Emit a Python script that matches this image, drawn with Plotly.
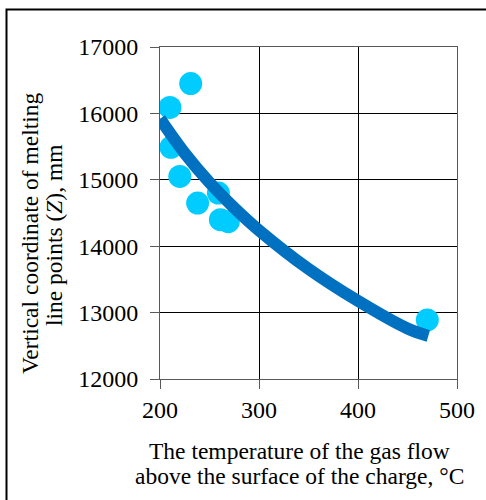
import plotly.graph_objects as go

# Measured data points (temperature, °C ; vertical coordinate, mm)
temp = [231, 210, 211, 220, 238, 259, 261, 269, 470]
zcoord = [16450, 16090, 15490, 15050, 14650, 14800, 14400, 14370, 12890]

# Trend line
trend_x = [200, 225, 250, 275, 300, 350, 400, 450, 471]
trend_y = [15920, 15400, 14959, 14578, 14239, 13658, 13175, 12760, 12648]

x_ticks = [200, 300, 400, 500]
y_ticks = [12000, 13000, 14000, 15000, 16000, 17000]

W, H = 486, 500
L, R, T, B = 160, 457, 47, 379
PW, PH = R - L, B - T

def px(xp):
    return (xp - L) / PW

def py(yp):
    return (B - yp) / PH

FONT = "Liberation Serif"

fig = go.Figure()
fig.add_trace(go.Scatter(
    x=temp, y=zcoord, mode="markers",
    marker=dict(size=23, color="#00CCFF", line=dict(width=0)),
    showlegend=False, hoverinfo="skip"))
fig.add_trace(go.Scatter(
    x=trend_x, y=trend_y, mode="lines", line_shape="spline",
    line=dict(color="#0070C0", width=12),
    showlegend=False, hoverinfo="skip"))

axis_common = dict(
    showgrid=True, gridcolor="#000000", gridwidth=1,
    showline=True, linecolor="#595959", linewidth=1, mirror=True,
    ticks="outside", ticklen=9, tickcolor="#595959",
    tickfont=dict(family=FONT, size=24, color="#000000"),
    tickformat="d",
    zeroline=False, fixedrange=True)

fig.update_xaxes(range=[200, 500], tickvals=x_ticks, **axis_common)
fig.update_yaxes(range=[12000, 17000], tickvals=y_ticks,
                 ticklabelstandoff=7, **axis_common)

tfont = dict(family=FONT, size=23.5, color="#000000")
ann = [
    dict(text="The temperature of the gas flow", x=px(299.5), y=py(451),
         xref="paper", yref="paper", showarrow=False, font=tfont,
         xanchor="center", yanchor="middle"),
    dict(text="above the surface of the charge, °C", x=px(299.5), y=py(476),
         xref="paper", yref="paper", showarrow=False, font=tfont,
         xanchor="center", yanchor="middle"),
    dict(text="Vertical coordinate of melting", x=px(29.5), y=py(233.5),
         xref="paper", yref="paper", showarrow=False, font=tfont,
         textangle=-90, xanchor="center", yanchor="middle"),
    dict(text="line points (<i>Z</i>), mm", x=px(54), y=py(235),
         xref="paper", yref="paper", showarrow=False, font=tfont,
         textangle=-90, xanchor="center", yanchor="middle"),
]

fig.update_layout(
    width=W, height=H,
    margin=dict(l=L, r=W - R, t=T, b=H - B, pad=0),
    paper_bgcolor="white", plot_bgcolor="white",
    annotations=ann,
    shapes=[dict(type="rect", xref="paper", yref="paper",
                 x0=px(6.5), y0=py(520), x1=px(520), y1=py(9.5),
                 line=dict(color="#000000", width=2), layer="above")],
)

fig.write_html("out.html", config={"displayModeBar": False, "staticPlot": True},
               post_script="document.body.style.margin='0px';document.body.style.padding='0px';")
